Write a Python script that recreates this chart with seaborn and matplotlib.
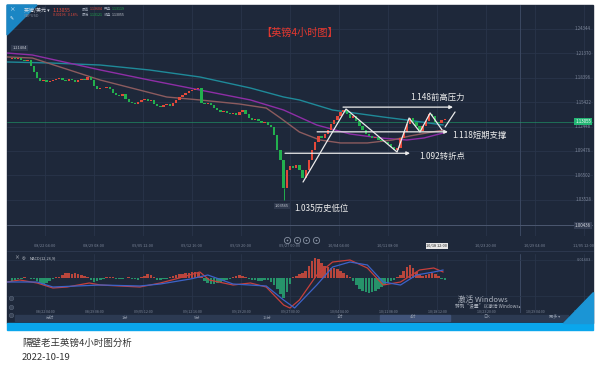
import matplotlib
matplotlib.use("Agg")
import matplotlib.pyplot as plt
from matplotlib.lines import Line2D
from matplotlib.patches import Polygon, Rectangle
import numpy as np
import pandas as pd
import seaborn as sns

# ---- values (GBP/USD, 4h chart, two bars per candle) ----
closes = [
    1.2076, 1.2064, 1.2076, 1.2052, 1.2040, 1.2052, 1.1979, 1.1907,
    1.1834, 1.1797, 1.1809, 1.1785, 1.1797, 1.1809, 1.1821, 1.1834,
    1.1809, 1.1797, 1.1821, 1.1809, 1.1785, 1.1809, 1.1821, 1.1809,
    1.1846, 1.1809, 1.1737, 1.1700, 1.1712, 1.1712, 1.1724, 1.1700,
    1.1652, 1.1627, 1.1615, 1.1640, 1.1579, 1.1542, 1.1530, 1.1518,
    1.1542, 1.1567, 1.1579, 1.1554, 1.1567, 1.1518, 1.1494, 1.1482,
    1.1506, 1.1518, 1.1494, 1.1530, 1.1567, 1.1603, 1.1627, 1.1652,
    1.1676, 1.1688, 1.1700, 1.1712, 1.1530, 1.1518, 1.1530, 1.1506,
    1.1469, 1.1445, 1.1421, 1.1433, 1.1409, 1.1397, 1.1409, 1.1384,
    1.1421, 1.1445, 1.1397, 1.1348, 1.1324, 1.1336, 1.1312, 1.1287,
    1.1299, 1.1263, 1.1239, 1.1142, 1.0960, 1.0839, 1.0498, 1.0717,
    1.0765, 1.0741, 1.0777, 1.0717, 1.0620, 1.0717, 1.0839, 1.0960,
    1.1057, 1.1130, 1.1106, 1.1154, 1.1202, 1.1275, 1.1324, 1.1372,
    1.1421, 1.1445, 1.1397, 1.1348, 1.1372, 1.1312, 1.1251, 1.1202,
    1.1154, 1.1130, 1.1106, 1.1118, 1.1081, 1.1069, 1.1057, 1.1033,
    1.0997, 1.0960, 1.0985, 1.1106, 1.1178, 1.1275, 1.1348, 1.1299,
    1.1251, 1.1190, 1.1251, 1.1312, 1.1397, 1.1372, 1.1299, 1.1287,
    1.1324, 1.1336,
]
first_open = 1.2064
low_index, low_price = 86, 1.0352
high_label = "1.21404"
low_label = "1.03565"
current_price = 1.13055
cursor_price = 1.00436

date_labels = ["08/22 04:00", "08/29 08:00", "09/05 12:00", "09/12 16:00",
               "09/19 20:00", "09/27 00:00", "10/04 04:00", "10/11 08:00",
               "10/18 12:00", "10/23 20:00", "10/29 04:00", "11/05 12:00"]
price_ticks = [1.24344, 1.21370, 1.18396, 1.15422, 1.12448, 1.09476, 1.06502, 1.03528]

ma_teal_bar = [-24, 3, 35, 66, 98, 130, 151, 161, 182, 214, 229, 252]
ma_teal = [1.2028, 1.2016, 1.1991, 1.1931, 1.1846, 1.1712, 1.1603, 1.1567,
           1.1445, 1.1360, 1.1324, 1.1263]
ma_purple_bar = [-24, -8, 35, 66, 98, 130, 151, 172, 193, 212, 229, 240, 252]
ma_purple = [1.2137, 1.2113, 1.1931, 1.1809, 1.1688, 1.1567, 1.1445, 1.1263,
             1.1154, 1.1106, 1.1081, 1.1106, 1.1166]
ma_brown_bar = [-24, -8, 35, 77, 98, 123, 140, 149, 161, 174, 187, 204, 220, 231, 252]
ma_brown = [1.2089, 1.2076, 1.1809, 1.1603, 1.1567, 1.1518, 1.1469, 1.1348,
            1.1178, 1.1081, 1.1045, 1.1045, 1.1081, 1.1130, 1.1202]

macd_hist = [
    -0.0027, -0.0018, -0.0009, -0.0005, 0.0005, 0.0003, -0.0005, -0.0009,
    -0.0027, -0.0045, -0.0054, -0.0045, -0.0027, -0.0009, 0.0005, 0.0009,
    0.0027, 0.0045, 0.0045, 0.0036, 0.0045, 0.0036, 0.0027, 0.0018,
    0.0009, -0.0018, -0.0036, -0.0027, -0.0014, -0.0005, 0.0005, 0.0009,
    0.0005, -0.0005, -0.0009, -0.0005, 0.0003, 0.0005, -0.0005, -0.0009,
    -0.0014, 0.0005, 0.0018, 0.0036, 0.0027, 0.0009, -0.0014, -0.0018,
    -0.0009, -0.0005, 0.0009, 0.0018, 0.0027, 0.0036, 0.0036, 0.0045,
    0.0045, 0.0054, 0.0054, 0.0045, 0.0009, -0.0027, -0.0045, -0.0054,
    -0.0054, -0.0045, -0.0036, -0.0027, -0.0018, -0.0009, 0.0005, 0.0014,
    0.0023, 0.0018, 0.0009, -0.0005, -0.0014, -0.0018, -0.0023, -0.0027,
    -0.0018, -0.0018, -0.0036, -0.0063, -0.0099, -0.0144, -0.0180, -0.0126,
    -0.0054, 0.0005, 0.0018, 0.0036, 0.0045, 0.0063, 0.0108, 0.0153,
    0.0180, 0.0171, 0.0135, 0.0108, 0.0099, 0.0090, 0.0090, 0.0081,
    0.0063, 0.0045, 0.0027, 0.0009, -0.0027, -0.0063, -0.0099, -0.0117,
    -0.0126, -0.0135, -0.0126, -0.0117, -0.0099, -0.0081, -0.0063, -0.0045,
    -0.0027, -0.0014, 0.0009, 0.0027, 0.0063, 0.0099, 0.0117, 0.0090,
    0.0054, 0.0027, 0.0018, 0.0027, 0.0036, 0.0045, 0.0036, 0.0018,
    -0.0009, -0.0014,
]
dif_bar = [-24, -16, -5, 5, 14, 28, 35, 60, 73, 85, 98, 104, 119, 130, 140,
           151, 155, 161, 172, 182, 193, 204, 214, 225, 237, 246, 252]
dif = [-0.0036, -0.0018, -0.0045, -0.0090, -0.0081, -0.0045, -0.0063, -0.0081,
       -0.0045, 0.0000, 0.0054, -0.0018, -0.0063, -0.0045, -0.0081, -0.0243,
       -0.0270, -0.0198, 0.0027, 0.0144, 0.0162, 0.0090, -0.0063, -0.0036,
       0.0072, 0.0090, 0.0054]
dea_bar = [-24, -5, 5, 35, 60, 73, 92, 103, 119, 140, 151, 158, 161, 172, 182,
           193, 204, 214, 225, 235, 246, 252]
dea = [-0.0036, -0.0036, -0.0081, -0.0063, -0.0072, -0.0054, -0.0009, 0.0027,
       -0.0054, -0.0072, -0.0198, -0.0270, -0.0225, -0.0063, 0.0099, 0.0144,
       0.0117, -0.0036, -0.0063, 0.0027, 0.0054, 0.0072]

levels = [1.148, 1.118, 1.092]
level_texts = ["1.148前高压力", "1.118短期支撑", "1.092转折点"]
low_text = "1.035历史低位"
zig_bar = [163.3, 190.5, 222.8, 230.4, 237.3, 243.7, 251.3]
zig_price = [1.0571, 1.1457, 1.0935, 1.1348, 1.1178, 1.1409, 1.1202]

title = "【英镑4小时图】"
caption = "隔壁老王英镑4小时图分析"
caption_date = "2022-10-19"
timeframes = ["分时", "1分", "5分", "15分", "1时", "4时", "日K", "更多 ▾"]

# ---- style ----
sns.set_theme(style="dark")
plt.rcParams["font.family"] = ["Noto Sans CJK SC", "DejaVu Sans"]

W, H = 600, 380
BG = "#1e283a"
GRID = "#29354a"
RED = "#e4493a"
GREEN = "#22b04e"
WHITE = "#ececec"
TICK = "#7d879a"


def fx(px):
    return px / W


def fy(py):
    return 1 - py / H


def ftext(px, py, s, **kw):
    kw.setdefault("va", "center")
    fig.text(fx(px), fy(py), s, **kw)


fig = plt.figure(figsize=(6, 3.8), dpi=100, facecolor="white")
fig.add_artist(Rectangle((fx(7), fy(323)), fx(593) - fx(7), fy(5) - fy(323),
                         transform=fig.transFigure, color=BG, zorder=-10))
fig.add_artist(Rectangle((fx(7), fy(330)), fx(593) - fx(7), fy(323) - fy(330),
                         transform=fig.transFigure, color="#0aa6ec", zorder=-10))

# ---- price panel ----
ax = fig.add_axes([fx(7), fy(236), fx(593) - fx(7), fy(5) - fy(236)])
ax.set_facecolor("none")
for s in ax.spines.values():
    s.set_visible(False)
ax.set_xlim(-24.05, 346.8)
ax.set_ylim(0.99155, 1.27198)
ax.set_xticks([])
ax.set_yticks([])

tick_bars = [31 * k for k in range(len(date_labels))]
for b in tick_bars:
    ax.axvline(b, color=GRID, lw=0.6, zorder=0)
for p in price_ticks:
    ax.axhline(p, color=GRID, lw=0.6, zorder=0)
ax.axvline(300.6, color="#3b4862", lw=0.7, zorder=0)

n = len(closes)
bars = -21 + 2 * np.arange(n)
c = np.array(closes)
o = np.r_[first_open, c[:-1]]
body = c - o
body = np.where(np.abs(body) < 0.0006, np.where(body >= 0, 0.0006, -0.0006), body)
ax.bar(bars, body, bottom=o, width=1.5, color=np.where(c >= o, RED, GREEN),
       linewidth=0, zorder=3)
ax.vlines(bars[low_index], low_price, min(o[low_index], c[low_index]),
          color=GREEN, lw=0.7, zorder=3)

ma_df = pd.concat([
    pd.DataFrame({"bar": ma_teal_bar, "price": ma_teal, "ma": "MA200"}),
    pd.DataFrame({"bar": ma_purple_bar, "price": ma_purple, "ma": "MA100"}),
    pd.DataFrame({"bar": ma_brown_bar, "price": ma_brown, "ma": "MA60"}),
])
sns.lineplot(data=ma_df, x="bar", y="price", hue="ma", estimator=None,
             palette={"MA200": "#1f8a99", "MA100": "#8e2ea6", "MA60": "#8c5b5e"},
             legend=False, linewidth=1.0, ax=ax, zorder=2)
ax.set_xlabel("")
ax.set_ylabel("")

ax.axhline(current_price, color="#1fa36b", lw=0.5, alpha=0.8, zorder=1)
ax.axhline(cursor_price, color="#4c5870", lw=0.7, zorder=1)

ytr = ax.get_yaxis_transform()
for p in price_ticks:
    ax.text(0.9966, p, f"{p:.5f}", transform=ytr, ha="right", va="center",
            fontsize=3.2, color=TICK)
ax.text(0.9966, current_price, f"{current_price:.5f}", transform=ytr, ha="right",
        va="center", fontsize=3.2, color="white",
        bbox=dict(boxstyle="square,pad=0.25", fc="#22b573", ec="none"))
ax.text(0.9966, cursor_price, f"{cursor_price:.5f}", transform=ytr, ha="right",
        va="center", fontsize=3.2, color="#d0d4dc",
        bbox=dict(boxstyle="square,pad=0.25", fc="#333d52", ec="none"))

ax.text(-16, 1.2198, high_label, fontsize=2.8, color="#c8ccd4", ha="center", va="center",
        bbox=dict(boxstyle="square,pad=0.3", fc="#2e384c", ec="none"))
ax.text(150, 1.0280, low_label, fontsize=2.8, color="#c8ccd4", ha="center", va="center",
        bbox=dict(boxstyle="square,pad=0.3", fc="#2e384c", ec="none"))

# annotation lines
spans = [(188.6, 258.2), (172.2, 255.0), (151.9, 231.0)]
for lvl, (x0, x1) in zip(levels, spans):
    ax.annotate("", xy=(x1, lvl), xytext=(x0, lvl),
                arrowprops=dict(arrowstyle="-|>", color=WHITE, lw=0.9,
                                mutation_scale=5, shrinkA=0, shrinkB=0), zorder=5)
ax.plot(zig_bar, zig_price, color=WHITE, lw=0.9, zorder=5)
ax.plot([253.2, 259.5], [1.1239, 1.1421], color=WHITE, lw=0.9, zorder=5)

txt = dict(fontsize=6, color=WHITE, va="center", ha="left", zorder=6)
ax.text(231, 1.1603, level_texts[0], **txt)
ax.text(257.6, 1.1142, level_texts[1], **txt)
ax.text(237, 1.0887, level_texts[2], **txt)
ax.text(158, 1.0256, low_text, **txt)

xtr = ax.get_xaxis_transform()
for b, lab in zip(tick_bars, date_labels):
    if lab == "10/18 12:00":
        ax.text(b, -0.043, lab, transform=xtr, ha="center", va="center", fontsize=2.8,
                color="#222222", clip_on=False,
                bbox=dict(boxstyle="square,pad=0.2", fc="#e6e6e6", ec="none"))
    else:
        ax.text(b, -0.043, lab, transform=xtr, ha="center", va="center", fontsize=2.8,
                color=TICK, clip_on=False)

# ---- MACD panel ----
axm = fig.add_axes([fx(7), fy(313), fx(593) - fx(7), fy(254) - fy(313)])
axm.set_facecolor("none")
for s in axm.spines.values():
    s.set_visible(False)
axm.set_xlim(-24.05, 346.8)
axm.set_ylim(-0.0315, 0.0216)
axm.set_xticks([])
axm.set_yticks([])
for b in tick_bars:
    axm.axvline(b, color=GRID, lw=0.6, zorder=0)
axm.axvline(300.6, color="#3b4862", lw=0.7, zorder=0)
for v in (0.0162, -0.0162):
    axm.axhline(v, color=GRID, lw=0.5, zorder=0)

h = np.array(macd_hist)
axm.bar(bars, h, width=1.6, color=np.where(h >= 0, "#b9463c", "#26936a"),
        linewidth=0, zorder=2)
macd_df = pd.concat([
    pd.DataFrame({"bar": dif_bar, "value": dif, "line": "DIF"}),
    pd.DataFrame({"bar": dea_bar, "value": dea, "line": "DEA"}),
])
sns.lineplot(data=macd_df, x="bar", y="value", hue="line", estimator=None,
             palette={"DIF": "#c8403c", "DEA": "#3d63c8"}, legend=False,
             linewidth=0.9, ax=axm, zorder=3)
axm.set_xlabel("")
axm.set_ylabel("")
mtr = axm.get_xaxis_transform()
for b, lab in zip(tick_bars, date_labels):
    axm.text(b, 0.02, lab, transform=mtr, ha="center", va="center", fontsize=2.6,
             color=TICK, clip_on=False)

# ---- chrome of the trading screen ----
fig.add_artist(Line2D([fx(7), fx(593)], [fy(251), fy(251)], transform=fig.transFigure,
                      color="#2f3b51", lw=0.6))
fig.add_artist(Polygon([(fx(7), fy(5)), (fx(37), fy(5)), (fx(7), fy(35))],
                       transform=fig.transFigure, color="#1a86c4", zorder=2))
ftext(12, 10, "×", color="white", fontsize=4, ha="center")
ftext(12, 19, "✎", color="white", fontsize=3.5, ha="center", family="DejaVu Sans")
ftext(24, 10, "英镑/美元 ▾", color="#d9dde5", fontsize=3.6)
ftext(24, 16, "GBPUSD", color="#7f8899", fontsize=2.8)
ftext(53, 10, "1.13055", color=RED, fontsize=3.6)
ftext(53, 15.5, "0.00196   0.18%", color=RED, fontsize=2.6)
ftext(82, 9.5, "最高", color="#9aa3b2", fontsize=2.6)
ftext(90, 9.5, "1.13604", color=RED, fontsize=2.6)
ftext(104, 9.5, "开盘", color="#9aa3b2", fontsize=2.6)
ftext(112, 9.5, "1.13119", color=GREEN, fontsize=2.6)
ftext(82, 14.5, "最低", color="#9aa3b2", fontsize=2.6)
ftext(90, 14.5, "1.13121", color=GREEN, fontsize=2.6)
ftext(104, 14.5, "收盘", color="#9aa3b2", fontsize=2.6)
ftext(112, 14.5, "1.13055", color="#c8ccd4", fontsize=2.6)

ftext(300, 33, title, color="#e8382f", fontsize=7.3, ha="center")

for px in (287, 297, 306, 316):
    fig.add_artist(Line2D([fx(px)], [fy(239.5)], transform=fig.transFigure, marker="o",
                          markersize=4.5, mfc="none", mec="#8892a3", mew=0.6))
    fig.add_artist(Line2D([fx(px)], [fy(239.5)], transform=fig.transFigure, marker="o",
                          markersize=1.2, mfc="#8892a3", mec="none"))

ftext(17, 258, "×", color="#c8ccd4", fontsize=3.5, ha="center")
ftext(24, 258, "◎", color="#c8ccd4", fontsize=3, ha="center", family="DejaVu Sans")
ftext(30, 258, "MACD(12,26,9)", color="#c8ccd4", fontsize=2.8)
ftext(591, 260, "0.01603", color=TICK, fontsize=2.8, ha="right")
for py in (298, 307, 315):
    fig.add_artist(Line2D([fx(11)], [fy(py)], transform=fig.transFigure, marker="o",
                          markersize=3.2, mfc="#3a4558", mec="#5a667a", mew=0.4))

fig.add_artist(Rectangle((fx(15), fy(320.5)), fx(568) - fx(15), fy(314.5) - fy(320.5),
                         transform=fig.transFigure, color="#2c3a52", zorder=1))
fig.add_artist(Rectangle((fx(380), fy(320.5)), fx(450) - fx(380), fy(314.5) - fy(320.5),
                         transform=fig.transFigure, color="#41547a", zorder=1))
for px, lab in zip([50, 125, 197, 267, 340, 413, 487, 555], timeframes):
    ftext(px, 317.5, lab, color="#8d97a8", fontsize=3, ha="center")

fig.add_artist(Polygon([(fx(563), fy(323)), (fx(593), fy(323)), (fx(593), fy(292))],
                       transform=fig.transFigure, color="#1b95d5", zorder=2))
ftext(458, 299.5, "激活 Windows", color="#aeb4bf", fontsize=5.5)
ftext(455, 306.5, "转到“设置”以激活 Windows。", color="#aeb4bf", fontsize=3.4)

ftext(22, 343, caption, color="#333333", fontsize=6.8)
ftext(22, 357, caption_date, color="#333333", fontsize=6.8)

fig.savefig("out.png", dpi=100, facecolor="white")
